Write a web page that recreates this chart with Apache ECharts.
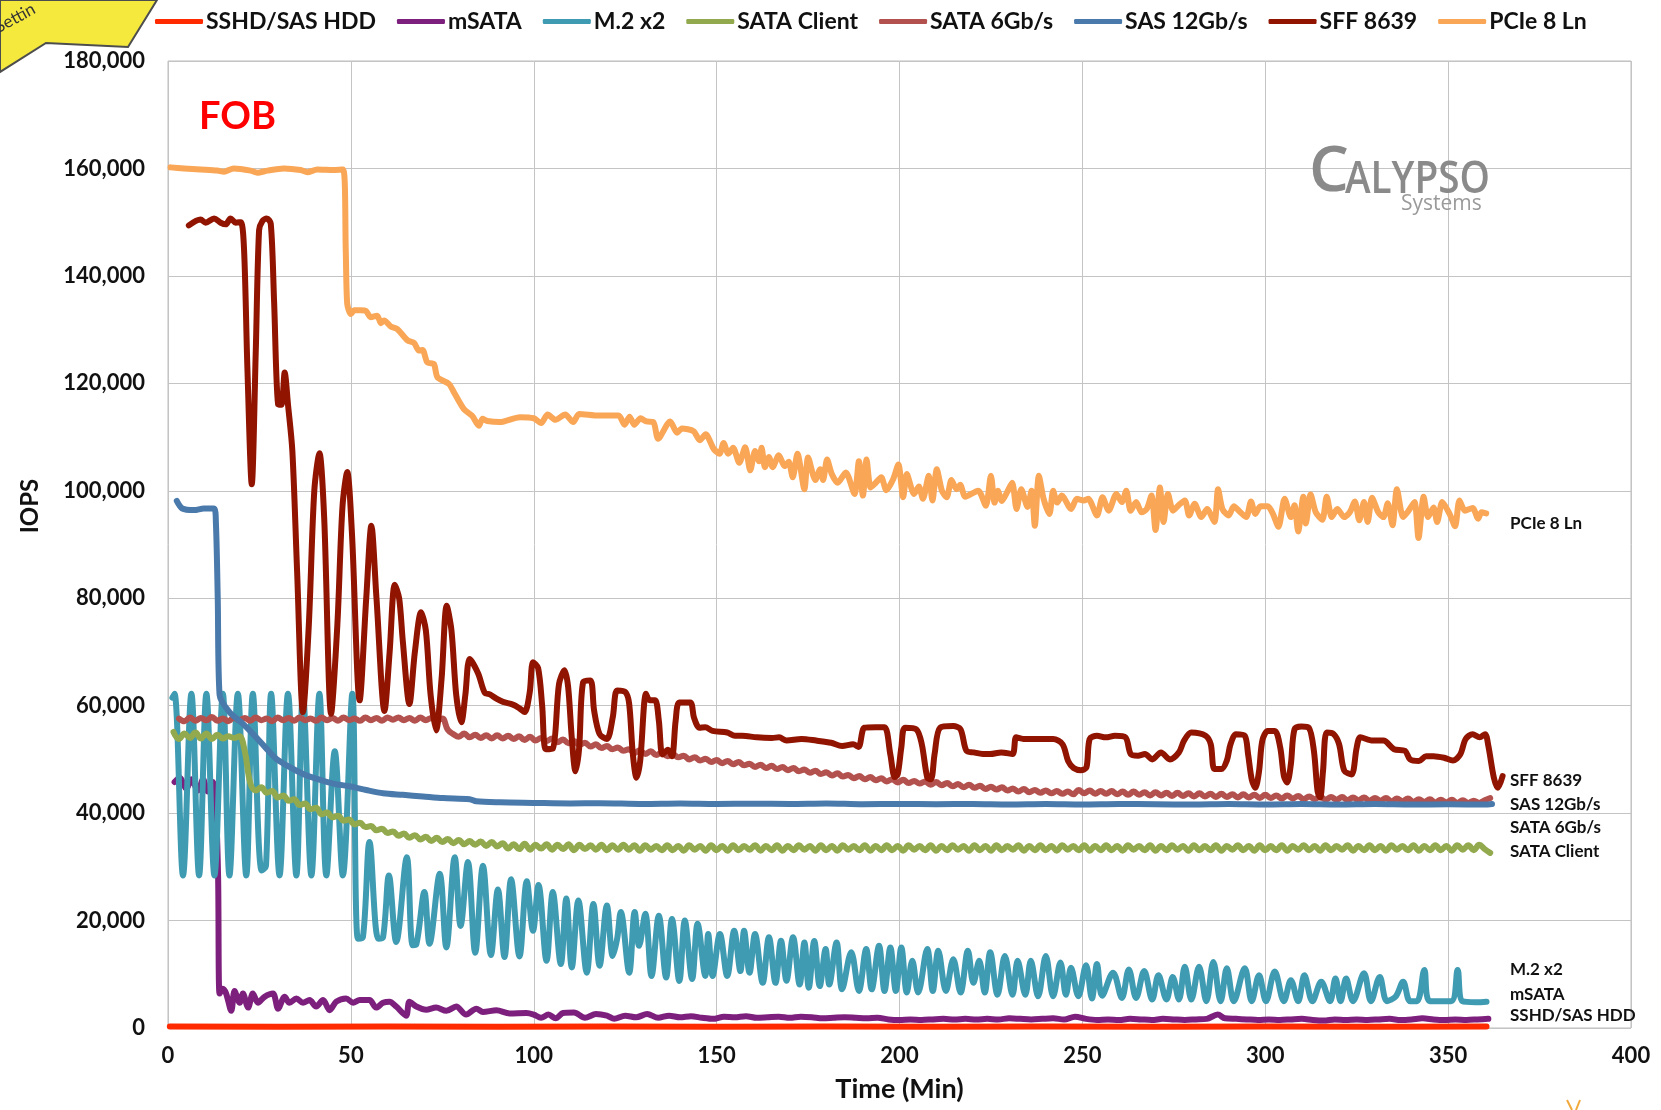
<!DOCTYPE html>
<html>
<head>
<meta charset="utf-8">
<script src="https://cdn.jsdelivr.net/npm/echarts@6/dist/echarts.min.js"></script>
<style>
html,body{margin:0;padding:0;background:#fff;}
#chart{width:1661px;height:1110px;}
</style>
</head>
<body>
<div id="chart"></div>
<script>
// ---------- DATA ----------
const seriesNames = ['SSHD/SAS HDD','mSATA','M.2 x2','SATA Client','SATA 6Gb/s','SAS 12Gb/s','SFF 8639','PCIe 8 Ln'];
const xTicks = [0,50,100,150,200,250,300,350,400];
const yTicks = [0,20000,40000,60000,80000,100000,120000,140000,160000,180000];

// [time (min), IOPS]
const sshdData = [[0.5,300],[30,250],[60,300],[90,250],[120,300],[150,250],[180,300],[210,250],[240,300],[270,250],[300,300],[330,250],[360.5,300]];

const msataData = [[1.8,45800],[3.2,46600],[5,44500],[6.4,46300],[8.2,44200],[9.6,46300],[10.9,44000],[12.3,45800],[13,42400],[13.7,28100],[14.1,6400],[15,7300],[15.9,6400],[17.3,3200],[18.2,6900],[19.6,4700],[20.5,6400],[21.9,3800],[23.2,6400],[24.6,4700],[26.4,5800],[28.7,6400],[30.1,3600],[31.9,5800],[33.2,4700],[35.1,5500],[36.9,4700],[38.7,5200],[40.5,4000],[42.4,5200],[44.2,3300],[46,4900],[48.7,5500],[50.6,4700],[52.4,5200],[55.1,5200],[56.9,3800],[58.8,4700],[60.6,4900],[62.4,4000],[65.1,2300],[66,4900],[67.9,4000],[70.6,3400],[73.3,3800],[76.1,3200],[78.8,4000],[81.5,2500],[84.3,3600],[86.1,3000],[89.8,3300],[93.4,2700],[98,2800],
[100,2500],[102,1900],[104,2500],[106,1800],[108,2800],[111,2900],[114,1900],[117,2600],[120,2300],[122,1700],[125,2300],[128,2000],[131,2600],[134,1900],[137,2300],[140,2000],[143,2200],[146,1900],[149,1700],[152,2100],[155,2000],[158,2200],[161,1900],[164,2000],[167,2100],[170,1900],[173,2100],[176,2000],[179,1800],[182,1900],[185,2000],[188,1900],[191,1800],[194,1900],[197,1600],[200,1500],[203,1600],[206,1500],[209,1600],[212,1700],[215,1600],[218,1700],[221,1600],[224,1700],[227,1600],[230,1800],[233,1700],[236,1600],[239,1700],[242,1800],[245,1600],[248,2100],[251,1700],[254,1500],[257,1600],[260,1500],[263,1700],[266,1600],[269,1500],[272,1700],[275,1600],[278,1500],[281,1600],[284,1700],[287,2500],[289,1800],[292,1700],[295,1600],[298,1500],[301,1600],[304,1500],[307,1600],[310,1700],[313,1500],[316,1400],[319,1600],[322,1500],[325,1600],[328,1500],[331,1600],[334,1700],[337,1500],[340,1600],[343,1800],[346,1600],[349,1500],[352,1600],[355,1500],[358,1600],[361,1700]];

const m2Data = [[1.2,61500],[1.8,62200],[4.1,28400],[6.4,62200],[8.5,28400],[10.5,62200],[12.7,28400],[15,62200],[16.8,28400],[19.1,62200],[21.4,28400],[23.2,62200],[25.6,29300],[26.8,30200],[28.2,62200],[30.5,28400],[32.8,62200],[35.1,28400],[36.9,62200],[39.2,28400],[41.4,62200],[43.3,28400],[45.6,51500],[47.8,28400],[50.4,62200],[51.9,16600],[53.3,16900],[55.1,34600],[57.5,16600],[58.8,16900],[60.4,28400],[62.4,16000],[65.3,31800],[66.9,15400],[67.9,15600],[70.1,25300],[71.5,15700],[74.3,28700],[76.1,15000],[78.4,31800],[80,19000],[82,30900],[84,14000],[86.1,30200],[88.3,13600],[90.2,25800],[92,13200],[93.8,27700],[96.1,13300],[98.1,27300],[99.8,18100],[101.3,26600],[103.5,12500],[105.2,25300],[107.4,11900],[108.9,24100],[110.4,11250],[112.2,23750],[114.5,10300],[116.3,23100],[118,11600],[120,22800],[121.6,13400],[122.8,16600],[123.8,21600],[126.1,10300],[127.6,21600],[128.8,15300],[130.5,21250],[132.2,9700],[134.2,20900],[136.2,9400],[137.8,20300],[139.8,8750],[141.3,20000],[143.3,9100],[144.8,19400],[146.9,9700],[147.7,17500],[148.9,9700],[150.9,17500],[152.9,9700],[154.8,18100],[156.5,10600],[157.5,18100],[159,10300],[160.5,17500],[162.6,8400],[164.3,16900],[166.1,8400],[167.6,16250],[169.1,8800],[170.9,16900],[172.7,8100],[174,15900],[175.2,7500],[176.7,16200],[178.2,7800],[179.8,14700],[180.8,8100],[182.8,15900],[184.3,7200],[186.8,14100],[188.9,6900],[190.9,14700],[192.4,7200],[194.4,15300],[195.9,6900],[197.5,15000],[199,6900],[200.5,15000],[202,6600],[203.5,12500],[205.1,6600],[207.6,14700],[209.1,6900],[210.6,14400],[212.7,6900],[214.7,12800],[216.7,6600],[218.7,14400],[220.2,8400],[221.8,12500],[223.3,6600],[224.8,14100],[226.8,6200],[228.8,13400],[230.9,6200],[232.3,12500],[234.4,6200],[235.9,12500],[237.9,5900],[240,13400],[242,5900],[244,12200],[245.5,6200],[246.9,11200],[248.9,5900],[251,11700],[252.6,5500],[254,11900],[255.4,6000],[258.4,10300],[260.8,5600],[262.7,10900],[264.7,5600],[266.9,10600],[269.1,5300],[270.8,9800],[273,5300],[274.7,9500],[276.4,5300],[278,11400],[279.8,5300],[281.9,11400],[283.9,5000],[285.8,12300],[287.8,5000],[289.5,11100],[291.4,5000],[294.4,11100],[296.3,5000],[298.3,9800],[300.2,5000],[302.6,10500],[305.1,5000],[307,8900],[309,5000],[310.7,9800],[312.9,5000],[315.3,8600],[317.7,5000],[319.2,9200],[320.6,5000],[322.1,9200],[324,5000],[327,10200],[328.9,5000],[331.3,9500],[333.3,5000],[335.7,5900],[337.7,8600],[339.6,5000],[341.5,5000],[343.5,10800],[345,5000],[350.8,5000],[352.6,10800],[353.9,5000],[357.6,4800],[360.5,4900]];

// SATA Client: samples every 1.5 min starting at 1.5 min
const sataClientStart = 1.5, sataClientStep = 1.5;
const sataClientValues = [55100,53800,54800,54000,55000,53900,54800,53800,54600,53900,
54300,54000,54300,51500,45600,44200,44800,43800,44100,42900,
43300,42300,42600,41500,41800,40700,41000,39800,40100,39200,
39500,38600,38800,37900,38200,37400,37600,36800,37100,36300,
36600,35800,36200,35400,35900,35100,35600,34800,35400,34600,
35200,34400,35000,34200,34800,34100,34700,33900,34600,33800,
34400,33400,34200,33300,34300,33200,34100,33400,34200,33200,
34100,33300,34200,33100,34100,33300,34000,33200,34100,33100,
34000,33200,34100,33200,34000,33000,34000,33200,33900,33100,
34000,33100,33900,33000,34000,33200,33900,33000,34000,33100,
33900,33000,34000,33100,33900,33200,34000,33000,33900,33100,
34000,33000,33900,33100,34000,33200,33900,33000,34000,33100,
33900,33000,34000,33200,33900,33100,34000,33000,33900,33100,
34000,33100,33900,33000,34000,33200,33900,33100,34000,33000,
33900,33100,34000,33200,33900,33000,34000,33100,33900,33000,
34000,33100,33900,33200,34000,33000,33900,33100,34000,33100,
33900,33000,34000,33200,33900,33100,34000,33000,33900,33100,
34000,33100,33900,33000,34000,33200,33900,33100,34000,33000,
33900,33100,34000,33200,33900,33000,34000,33100,33900,33100,
34000,33000,33900,33200,34000,33100,33900,33000,34000,33100,
33900,33100,34000,33000,33900,33200,34000,33100,33900,33000,
34000,33100,33900,33200,34000,33000,33900,33100,34000,33100,
33900,33000,34000,33200,33900,33100,34000,33000,33900,33100,
34000,33100,33900,33000,34000,33200,34000,33100,34100,33300,
32600];

// SATA 6Gb/s: samples every 1.5 min starting at 3 min
const sata6Start = 3, sata6Step = 1.5;
const sata6Values = [57600,57100,57800,57200,57700,57300,57900,57200,57600,57100,
57800,57300,57700,57200,57800,57300,57600,57100,57800,57300,
57700,57200,57800,57300,57600,57200,57800,57300,57700,57200,
57800,57300,57600,57200,57800,57300,57700,57200,57800,57400,
57800,57300,57700,57200,57800,57300,57700,57300,57600,55500,
54700,54200,54800,54100,54600,54000,54500,53900,54500,53900,
54400,53800,54300,53600,54200,53500,54000,53400,53900,53200,
53700,53000,53400,52700,53100,52400,52800,52100,52500,51900,
52200,51600,51900,51200,51700,51000,51500,50800,51300,50600,
51000,50400,50700,50000,50400,49800,50100,49500,49900,49300,
49700,49100,49500,48900,49200,48600,49000,48400,48800,48200,
48600,48000,48400,47800,48100,47500,47900,47300,47600,47000,
47400,46800,47100,46500,46900,46300,46700,46100,46500,45900,
46300,45700,46200,45600,46000,45500,45900,45300,45800,45200,
45600,45000,45400,44800,45300,44700,45100,44500,44900,44400,
44800,44200,44600,44000,44500,43900,44300,43800,44200,43700,
44100,43600,44000,43500,44300,43700,44200,43600,44100,43600,
44100,43500,44000,43400,44000,43400,43900,43300,43900,43300,
43800,43200,43800,43200,43700,43100,43700,43100,43600,43000,
43600,43000,43500,42900,43500,42900,43400,42800,43400,42800,
43300,42700,43300,42700,43200,42600,43100,42600,43100,42500,
43000,42500,43000,42400,42900,42400,42900,42300,42800,42300,
42800,42200,42700,42200,42700,42100,42600,42100,42600,42000,
42500,42000,42500,41900,42400,41900,42300,41900,42400,42800];

const sas12Data = [[2.4,98100],[3.9,96700],[7.1,96400],[9.8,96700],[12.6,96700],[13.1,94000],[13.6,80000],[14.1,62000],[16.8,58800],[20.5,56600],[24.1,54100],[26.9,52000],[29.6,50100],[33.2,48600],[36.9,47300],[40.5,46400],[45.1,45500],[49.6,45000],[54.2,44300],[58.8,43700],[64.2,43400],[69.7,43100],[75.2,42800],[82.5,42600],[84.3,42200],[90.7,42000],[99.8,41900],[110,41800],[118,41850],[130,41700],[140,41800],[150,41700],[160,41750],[170,41700],[180,41800],[190,41650],[200,41700],[210,41650],[220,41700],[230,41600],[240,41700],[250,41600],[260,41700],[270,41650],[280,41600],[290,41700],[300,41600],[310,41700],[320,41600],[330,41700],[340,41600],[350,41650],[360,41600],[362,41700]];

const sffData = [[5.7,149400],[8.9,150500],[10.3,149900],[12.6,150700],[14.4,149900],[15.8,149600],[17.1,150700],[18.5,149900],[19.9,150000],[20.8,144800],[21.7,123000],[22.9,101200],[24,126100],[24.9,148500],[25.8,150200],[27,150700],[28.1,149700],[29,135400],[30.1,116100],[31,116000],[31.9,122000],[32.8,116100],[34,107400],[35.3,85000],[36.9,58800],[38.5,75000],[40,100000],[41.4,107000],[42.7,95000],[44.6,58500],[46.3,75000],[47.7,97000],[49,103500],[50.3,92000],[52.4,61000],[54.2,80000],[55.6,93500],[57,80000],[59.2,59000],[60.6,70000],[62,82500],[63.2,80000],[64.2,72000],[66,60300],[67.5,70000],[69.2,77400],[70.5,74000],[71.8,62000],[73.3,55400],[74.8,65000],[76.2,78600],[77.5,74000],[78.8,62000],[80.2,56900],[81.3,62000],[82.5,68700],[84.8,66000],[86.6,62400],[88,62100],[89.8,61300],[91.6,60700],[94.3,60200],[96.1,59500],[97.5,58800],[98.9,62500],[99.8,68100],[101.2,67000],[102.3,60000],[103.3,51900],[105.2,52000],[106.9,64000],[108.4,66600],[109.4,63500],[110.4,54000],[111.4,47800],[112.4,52000],[113.5,64400],[115.5,64700],[116.5,59100],[118,54700],[120,53800],[121.6,57800],[122.8,62800],[125.1,62500],[126.1,60300],[127.1,50900],[128.1,46600],[129.1,49700],[130.7,62200],[131.7,61000],[133.2,61000],[134.2,57200],[135.2,50900],[136.7,51800],[137.8,50600],[138.8,57200],[139.8,60600],[142.8,60600],[143.8,57800],[145.3,55900],[146.9,56000],[148.9,55300],[152.9,55000],[155,54400],[157,54400],[161,54100],[165.1,54000],[167.1,54100],[169.1,53500],[173.2,53800],[177.2,53500],[181.3,53100],[184.3,52500],[187.3,52800],[188.8,52300],[190.4,55900],[193.4,56000],[195.9,56000],[197.5,50900],[198.7,46700],[199.5,47200],[200.5,52200],[201.5,55900],[204.6,55600],[206.1,52800],[207.6,46600],[208.6,46300],[209.6,51000],[211.1,55900],[214.7,56200],[216.7,55600],[218.3,51600],[220.3,51300],[222.8,51000],[224.8,51000],[227.8,51300],[230.9,51000],[231.9,54100],[233.9,53800],[238,53800],[242,53800],[244.6,52800],[246.1,49700],[247.6,48400],[249.6,48000],[251.1,48500],[252,53800],[254,54400],[256.4,54100],[258.9,54400],[261.8,54100],[263.2,51000],[265.2,50700],[267.1,51000],[269.1,50000],[271.5,51300],[273.9,50000],[276.4,51300],[277.8,53500],[279.8,55000],[283.7,54400],[285.1,52800],[286.1,48200],[288,48200],[289.5,49800],[290.5,52800],[292,54700],[294.4,54400],[295.3,51000],[296.3,46300],[297.3,44700],[298.3,47800],[299.2,53500],[300.7,55300],[302.6,55300],[304.1,52200],[305.1,46900],[306,45700],[307,49100],[308,55600],[309.9,56100],[311.9,55900],[313.3,51600],[314.3,44100],[315,42900],[315.8,47900],[316.8,55000],[318.7,54700],[320.2,52800],[321.6,47900],[323.6,47200],[325,52200],[326,54100],[329.4,53500],[332.3,53500],[335.2,51900],[338.2,51600],[339.6,50000],[342,49700],[344,50600],[346,50600],[348.9,50300],[351.3,49800],[353.3,50900],[354.8,53800],[356.7,54700],[358.6,54100],[360.1,54700],[361,52500],[362.5,46600],[363.6,44700],[364.9,46900]];

const pcieData = [[0.7,160200],[4.4,160000],[8.9,159800],[13.5,159600],[15.3,159400],[18,160000],[22.6,159600],[24.4,159200],[27.2,159600],[31.7,160000],[36.3,159700],[38.1,159300],[40.8,159800],[45.4,159700],[47.9,159800],[48.6,144800],[49,134800],[50,132900],[50.9,133600],[52.7,133600],[54.1,133500],[55.4,132300],[57.2,132600],[58.2,131200],[59.1,131700],[60.9,130600],[62.7,130100],[65.5,128000],[67.3,127500],[68.6,126100],[69.6,126200],[70.9,123900],[72.7,123600],[73.7,121100],[76.8,119900],[78.2,118300],[80.9,115200],[83.2,113900],[85,112100],[86,113400],[87.3,113000],[90.8,112800],[96.2,113700],[100,113500],[102,112600],[103.8,114200],[105.9,113200],[108.6,114200],[110.8,112800],[112.4,114300],[117.8,114000],[123.2,114000],[124.8,112300],[126.2,113800],[127.5,112300],[129.2,113500],[130.8,112900],[132.7,112800],[134,109700],[137.3,112900],[139.2,110800],[140.5,111600],[143.7,111100],[145.4,109400],[147,110500],[149.2,107800],[150.8,106900],[151.9,108900],[153.2,106900],[154.5,108000],[156.2,105200],[157.8,108100],[159.2,103800],[160.5,107400],[161.6,105500],[162.3,108000],[163.2,104400],[164.3,106300],[165.3,104400],[167,106600],[168.6,104600],[169.7,105400],[170.8,102500],[172.1,106900],[174,100300],[175,106200],[177,102000],[178.3,104000],[179.1,102000],[180.2,105800],[181.5,103100],[183.1,101500],[185.3,103400],[187.7,99400],[188.9,105500],[190,99100],[191,105800],[192.1,100600],[193.4,101400],[195,102500],[196.4,100100],[198.3,102200],[199.7,104900],[201,98800],[202,103100],[204,99400],[205.3,100800],[206.4,98500],[208,102800],[209,98200],[210.2,104000],[211.6,100000],[212.9,98800],[214.2,102000],[215.6,100300],[216.6,101100],[218,98900],[221.5,100000],[223.6,97200],[225,102800],[226,97800],[226.9,100000],[228,98100],[229.4,99700],[230.8,101500],[232,96600],[233.3,100300],[235,97000],[236.1,100000],[237,93500],[238.1,102800],[239.4,98500],[241,95700],[242,100000],[243.1,97800],[244.4,99100],[246.9,96600],[248.5,98500],[250.4,98200],[251.6,98500],[254,95400],[255.5,98800],[257.2,96300],[259.3,99400],[260.8,97900],[262,100000],[263.2,96300],[264.7,97900],[266.2,96000],[267.6,96600],[268.9,99100],[270,92700],[271.2,100600],[272.2,94200],[273.4,99400],[274.8,96300],[276.3,97300],[278,98200],[279.2,95400],[280.7,97600],[282.5,95100],[284.1,96600],[286.1,94200],[287.1,100300],[288.3,96600],[290,95400],[291.4,97100],[293.2,96000],[294.8,95100],[296.1,98000],[297.3,95700],[298.7,97100],[300.7,97100],[302.1,95700],[303.6,93300],[305.3,98500],[307,95100],[308,97300],[309,92400],[310.4,98900],[311.1,93900],[312.4,99300],[313.8,96000],[315.6,94600],[316.8,98900],[318.2,95100],[319.7,96600],[321.6,95100],[323.1,96000],[324.5,98000],[325.7,94500],[327,97900],[328,94200],[329.2,98700],[330.9,96000],[332.3,95100],[333.5,97700],[334.8,93600],[336,100300],[337.7,95100],[339.2,96300],[340.8,97900],[341.9,91200],[343.3,98900],[344.5,95100],[346,96900],[347,94200],[348.4,97900],[350.4,95700],[351.9,93400],[353.1,98200],[354.6,96300],[356.7,96800],[358.2,94800],[359.1,96000],[360.4,95800]];

const endLabels = ['PCIe 8 Ln','SFF 8639','SAS 12Gb/s','SATA 6Gb/s','SATA Client','M.2 x2','mSATA','SSHD/SAS HDD'];

// ---------- BUILD ----------
function sampled(start, step, vals){ return vals.map((v,i)=>[start+step*i, v]); }

const colors = {
  'SSHD/SAS HDD':'#ff2a00','mSATA':'#7d1f7c','M.2 x2':'#3f9bb2','SATA Client':'#92a94e',
  'SATA 6Gb/s':'#b2514d','SAS 12Gb/s':'#4a79ab','SFF 8639':'#901400','PCIe 8 Ln':'#f9a656'
};
const dataMap = {
  'SSHD/SAS HDD': sshdData,
  'mSATA': msataData,
  'M.2 x2': m2Data,
  'SATA Client': sampled(sataClientStart, sataClientStep, sataClientValues),
  'SATA 6Gb/s': sampled(sata6Start, sata6Step, sata6Values),
  'SAS 12Gb/s': sas12Data,
  'SFF 8639': sffData,
  'PCIe 8 Ln': pcieData
};
const smoothMap = {'SSHD/SAS HDD':0,'mSATA':0.3,'M.2 x2':0.35,'SATA Client':0.4,'SATA 6Gb/s':0.4,'SAS 12Gb/s':0.3,'SFF 8639':0.3,'PCIe 8 Ln':0.25};

const FONT = 'Lato, "Open Sans", sans-serif';
const chart = echarts.init(document.getElementById('chart'), null, {renderer:'canvas'});

const labelYs = [524, 781, 805, 828, 852, 970, 995, 1016];

const graphics = [
  {type:'polygon', shape:{points:[[0,0],[157,0],[128,47],[46,43],[0,72]]},
   style:{fill:'#f5e93e', stroke:'#4d4d4d', lineWidth:2}, z:10},
  {type:'text', x:0, y:36, rotation:0.5, style:{text:'Settin', font:'17px '+FONT, fill:'#333', textVerticalAlign:'bottom'}, z:11},
  {type:'text', x:199, y:117, style:{text:'FOB', font:'bold 38px '+FONT, fill:'#ff0000', textVerticalAlign:'middle'}, z:11},
  {type:'text', x:1309, y:173, style:{text:'C', font:'600 63px "Open Sans", sans-serif', fill:'#8a8a8a', textVerticalAlign:'middle'}, z:11},
  {type:'text', x:1345, y:180, scaleX:0.86, style:{text:'ALYPSO', font:'600 45px "Open Sans", sans-serif', fill:'#8a8a8a', textVerticalAlign:'middle'}, z:11},
  {type:'text', x:1401, y:204, style:{text:'Systems', font:'21px "Open Sans", sans-serif', fill:'#9a9a9a', textVerticalAlign:'middle'}, z:11},
  {type:'text', x:30, y:506, rotation:Math.PI/2, style:{text:'IOPS', font:'bold 24px '+FONT, fill:'#111', textAlign:'center', textVerticalAlign:'middle'}, z:11},
  {type:'polyline', shape:{points:[[1567,1100],[1572,1110]]}, style:{stroke:'#f2a93b', lineWidth:2}},
  {type:'polyline', shape:{points:[[1580,1100],[1576,1110]]}, style:{stroke:'#f2a93b', lineWidth:2}}
];
endLabels.forEach((t,i)=>{
  graphics.push({type:'text', x:1510, y:labelYs[i], style:{text:t, font:'bold 17px '+FONT, fill:'#111', textVerticalAlign:'middle'}, z:11});
});

const option = {
  animation:false,
  backgroundColor:'#fff',
  color: seriesNames.map(n=>colors[n]),
  legend:{
    data: seriesNames,
    top:5, left:150,
    icon:'roundRect', itemWidth:48, itemHeight:5, itemGap:21,
    textStyle:{fontFamily:FONT, fontWeight:'bold', fontSize:23, color:'#111', padding:[0,0,0,-2]}
  },
  grid:{left:168, right:30, top:61, bottom:82, show:true, borderColor:'#bdbdbd', borderWidth:1},
  xAxis:{
    type:'value', min:xTicks[0], max:xTicks[xTicks.length-1], interval:xTicks[1]-xTicks[0],
    name:'Time (Min)', nameLocation:'middle', nameGap:48,
    nameTextStyle:{fontFamily:FONT, fontWeight:'bold', fontSize:27, color:'#111'},
    axisLine:{show:false}, axisTick:{show:false},
    axisLabel:{fontFamily:FONT, fontWeight:'bold', fontSize:22, color:'#111', margin:17},
    splitLine:{show:true, lineStyle:{color:'#c4c4c4', width:1}}
  },
  yAxis:{
    type:'value', min:yTicks[0], max:yTicks[yTicks.length-1], interval:yTicks[1]-yTicks[0],
    axisLine:{show:false}, axisTick:{show:false},
    axisLabel:{fontFamily:FONT, fontWeight:'bold', fontSize:22, color:'#111', margin:23,
      formatter:v=>v.toLocaleString('en-US')},
    splitLine:{show:true, lineStyle:{color:'#c4c4c4', width:1}}
  },
  graphic: graphics,
  series: seriesNames.map(n=>({
    name:n, type:'line', data:dataMap[n], showSymbol:false, symbol:'none',
    smooth:smoothMap[n],
    lineStyle:{width:n==='SSHD/SAS HDD'?6:6, color:colors[n], cap:'round', join:'round'},
    itemStyle:{color:colors[n]},
    emphasis:{disabled:true}, silent:true
  }))
};
chart.setOption(option);
</script>
</body>
</html>
